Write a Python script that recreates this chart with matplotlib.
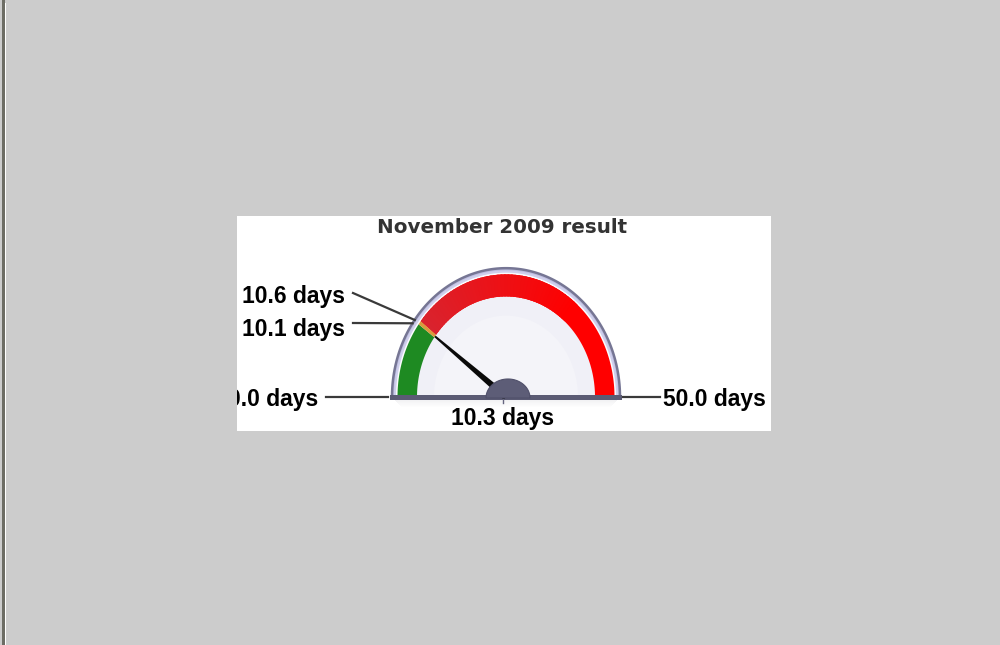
import numpy as np
import matplotlib
matplotlib.use("Agg")
import matplotlib.pyplot as plt
from matplotlib.patches import Polygon, Rectangle
from matplotlib.colors import to_rgb

# ---- data ----
title = "November 2009 result"
gauge_min = 0.0
gauge_max = 50.0
needle_value = 10.3
band_edges = [0.0, 10.1, 10.6, 50.0]
band_names = ["green", "amber", "red"]
marker_values = [10.6, 10.1]
unit = "days"

# ---- layout (pixels) ----
W, H = 1000, 645
cx, cy = 506.0, 397.0
aspect = 1.13
fig = plt.figure(figsize=(W / 100, H / 100), dpi=100)
fig.patch.set_facecolor("#cccccc")
ax = fig.add_axes([0, 0, 1, 1])
ax.set_xlim(0, W)
ax.set_ylim(H, 0)
ax.axis("off")
ax.set_facecolor("#cccccc")

# window border on left
ax.add_patch(Rectangle((2, 0), 3, H, color="#6d6d65", lw=0, zorder=1))
ax.add_patch(Rectangle((5, 3), 1.2, H, color="#ffffff", lw=0, zorder=1))

# white chart panel
panel = Rectangle((237, 216), 534, 215, facecolor="white", edgecolor="none", zorder=1)
ax.add_patch(panel)


def ang(v):
    return np.pi * (1 - (v - gauge_min) / (gauge_max - gauge_min))


def pt(theta, rx):
    return cx + rx * np.cos(theta), cy - rx * aspect * np.sin(theta)


def arc(t0, t1, rx, n=200):
    t = np.linspace(t0, t1, n)
    return np.column_stack([cx + rx * np.cos(t), cy - rx * aspect * np.sin(t)])


def half(rx, **kw):
    p = arc(0, np.pi, rx)
    return Polygon(p, closed=True, **kw)


# soft shadow below base
for i, a in enumerate(np.linspace(0.12, 0.0, 9)):
    ax.add_patch(Rectangle((cx - 112 + i, cy + 2 + i), 224 - 2 * i, 1.2,
                           color="#888899", alpha=a, lw=0, zorder=2))

# bezel
ax.add_patch(half(114, facecolor="#bdbddf", edgecolor="#767694", lw=1.8, zorder=3))
ax.add_patch(half(112, facecolor="#cfcfec", edgecolor="none", zorder=3))
ax.add_patch(half(110, facecolor="#fbfbfe", edgecolor="none", zorder=3))
ax.add_patch(half(106, facecolor="#f0f0f7", edgecolor="none", zorder=3))
ax.add_patch(half(72, facecolor="#f4f4f9", edgecolor="none", zorder=3))

# colour bands
r_out, r_in = 108.5, 89.0
green = to_rgb("#1e8a22")
amber = to_rgb("#d99a3c")
red_l = np.array(to_rgb("#d9232e"))
red_r = np.array(to_rgb("#ff0000"))
for (v0, v1, name) in zip(band_edges[:-1], band_edges[1:], band_names):
    if name == "red":
        # base red arc then a graded overlay toward the left end
        poly = np.vstack([arc(ang(v0), ang(v1), r_out, 200),
                          arc(ang(v1), ang(v0), r_in, 200)])
        ax.add_patch(Polygon(poly, closed=True, facecolor=red_r,
                             edgecolor="none", zorder=4))
        steps = np.linspace(v0, v0 + (v1 - v0) * 0.65, 50)
        for a0, a1 in zip(steps[:-1], steps[1:]):
            f = ((a0 + a1) / 2 - v0) / ((v1 - v0) * 0.65)
            col = red_l + (red_r - red_l) * f
            poly = np.vstack([arc(ang(a0), ang(a1 + 0.25), r_out, 6),
                              arc(ang(a1 + 0.25), ang(a0), r_in, 6)])
            ax.add_patch(Polygon(poly, closed=True, facecolor=col,
                                 edgecolor="none", zorder=4))
    else:
        col = green if name == "green" else amber
        poly = np.vstack([arc(ang(v0), ang(v1), r_out, 60),
                          arc(ang(v1), ang(v0), r_in, 60)])
        ax.add_patch(Polygon(poly, closed=True, facecolor=col,
                             edgecolor="none", zorder=4.5))

# base bar
ax.add_patch(Rectangle((cx - 116, cy - 2), 232, 4.5, facecolor="#5b5b74",
                       edgecolor="none", zorder=5))

# needle
th = ang(needle_value)
tip = np.array(pt(th, 89))
base = np.array([cx, cy])
d = tip - base
d /= np.linalg.norm(d)
nrm = np.array([-d[1], d[0]])
needle = np.array([base + nrm * 3.5, tip + nrm * 1.0, tip - nrm * 1.0, base - nrm * 3.5])
ax.add_patch(Polygon(needle, closed=True, facecolor="#0a0a0a", edgecolor="none", zorder=6))

# hub
t = np.linspace(0, np.pi, 100)
hub = np.column_stack([cx + 2 + 22 * np.cos(t), cy + 1 - 19 * np.sin(t)])
ax.add_patch(Polygon(hub, closed=True, facecolor="#5d5d77", edgecolor="#50506a",
                     lw=0.8, zorder=7))
ax.plot([cx - 3, cx - 3], [cy + 2, cy + 6], color="#666680", lw=1, zorder=7)

# ---- labels ----
lab_font = dict(family="Liberation Sans", weight="bold", size=16.5, color="black")
# min / max
t0 = ax.text(318, 406, f"{gauge_min:.1f} {unit}", ha="right", va="baseline",
             zorder=8, clip_on=True, **lab_font)
t0.set_clip_path(panel)
ax.plot([326, cx - 118], [cy, cy], color="#3a3a3a", lw=1.6, zorder=8)
ax.text(663, 406, f"{gauge_max:.1f} {unit}", ha="left", va="baseline", zorder=8, **lab_font)
ax.plot([cx + 117, 660], [cy, cy], color="#3a3a3a", lw=1.6, zorder=8)

# marker labels
label_y = [303, 336]
line_start_y = [293, 323]
for v, ly, sy in zip(marker_values, label_y, line_start_y):
    ax.text(345, ly, f"{v:.1f} {unit}", ha="right", va="baseline", zorder=8, **lab_font)
    ex, ey = pt(ang(v), 116)
    ax.plot([353, ex], [sy, ey + 4], color="#3a3a3a", lw=1.6, zorder=8)

# value label
ax.text(503, 425, f"{needle_value:.1f} {unit}", ha="center", va="baseline",
        zorder=8, **lab_font)

# title
ax.text(502.5, 233, title, ha="center", va="baseline", family="DejaVu Sans",
        weight="bold", size=14.3, color="#333333", zorder=8)

fig.savefig("out.png", dpi=100, facecolor=fig.get_facecolor())
